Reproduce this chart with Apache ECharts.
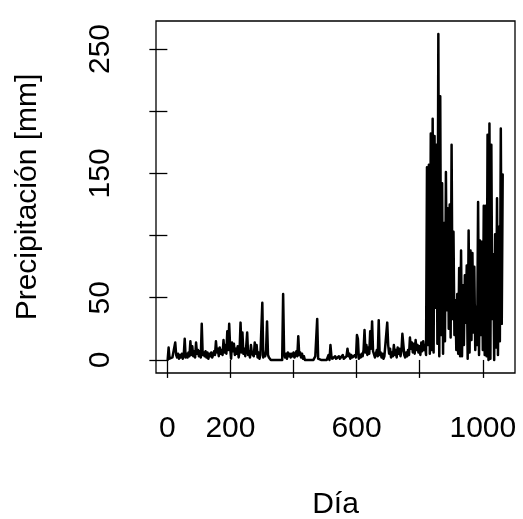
<!DOCTYPE html>
<html>
<head>
<meta charset="utf-8">
<script src="https://cdn.jsdelivr.net/npm/echarts@6/dist/echarts.min.js"></script>
<style>
  html, body { margin: 0; padding: 0; background: #fff; }
  #chart { width: 523px; height: 519px; }
</style>
</head>
<body>
<div id="chart"></div>
<script>
// precipitación diaria, un valor cada 3 días (día 1, 4, 7, ...)
const firstDay = 1
const stepDays = 3
const precip = [
  0, 10, 1, 0, 0, 2, 1, 3, 14, 4,
  2, 5, 1, 4, 2, 5, 1, 4, 17, 2,
  5, 2, 6, 3, 15, 4, 11, 3, 7, 2,
  14, 5, 8, 3, 7, 2, 29, 4, 6, 3,
  7, 2, 6, 1, 5, 3, 6, 2, 4, 7,
  4, 15, 6, 9, 3, 10, 5, 8, 4, 16,
  6, 12, 5, 23, 8, 29, 10, 1, 14, 7,
  13, 4, 9, 5, 11, 2, 8, 30, 6, 22,
  5, 9, 3, 11, 22, 4, 7, 2, 12, 5,
  6, 3, 14, 5, 12, 2, 6, 1, 4, 3,
  46, 2, 5, 3, 8, 31, 4, 2, 1, 0,
  0, 0, 0, 0, 0, 0, 0, 0, 0, 0,
  1, 0, 53, 6, 2, 5, 1, 6, 3, 5,
  2, 5, 3, 6, 2, 4, 7, 3, 19, 4,
  6, 2, 5, 1, 3, 0, 0, 0, 0, 0,
  0, 0, 0, 0, 0, 0, 3, 4, 33, 1,
  0, 0, 0, 0, 0, 0, 0, 0, 0, 1,
  4, 0, 12, 3, 1, 2, 0, 3, 1, 2,
  0, 3, 1, 2, 0, 4, 1, 2, 0, 3,
  9, 3, 5, 1, 4, 2, 3, 1, 4, 2,
  20, 17, 1, 4, 2, 5, 3, 8, 24, 6,
  12, 4, 10, 5, 23, 9, 31, 7, 6, 2,
  5, 8, 3, 32, 4, 6, 2, 5, 1, 3,
  2, 4, 30, 12, 5, 9, 2, 6, 3, 12,
  4, 8, 2, 10, 5, 9, 3, 7, 21, 20,
  4, 2, 6, 3, 8, 4, 18, 9, 14, 6,
  13, 5, 16, 8, 12, 6, 11, 4, 14, 7,
  15, 8, 12, 4, 155, 12, 157, 5, 182, 8,
  194, 6, 180, 42, 173, 13, 262, 3, 212, 20,
  142, 5, 110, 15, 151, 40, 122, 25, 125, 18,
  173, 33, 103, 20, 48, 8, 53, 5, 74, 3,
  88, 3, 60, 12, 68, 30, 76, 1, 104, 6,
  88, 16, 86, 22, 75, 8, 43, 12, 127, 4,
  96, 20, 95, 8, 124, 4, 124, 3, 181, 0,
  190, 1, 173, 33, 85, 0, 101, 10, 130, 4,
  107, 15, 186, 29, 149
]
const xTicks = [0, 200, 400, 600, 800, 1000]
const xLabels = [0, 200, 600, 1000]
const yTicks = [0, 50, 100, 150, 200, 250]
const yLabels = [0, 50, 150, 250]

const serie = precip.map((v, i) => [firstDay + i * stepDays, v])

const font = 'Liberation Sans, Arial, sans-serif'
const chart = echarts.init(document.getElementById('chart'))

chart.setOption({
  animation: false,
  grid: {
    left: 156, right: 8, top: 21, bottom: 146,
    outerBoundsMode: 'none',
    containLabel: false,
    show: true, borderColor: '#000', borderWidth: 1.3, backgroundColor: 'transparent'
  },
  xAxis: {
    type: 'value',
    min: -36,
    max: 1102,
    name: 'Día',
    nameLocation: 'middle',
    nameGap: 117,
    nameTextStyle: { color: '#000', fontSize: 30, fontFamily: font },
    axisLine: { show: false },
    axisTick: { show: true, length: 18, customValues: xTicks, lineStyle: { color: '#000', width: 1.3 } },
    axisLabel: {
      customValues: xLabels, margin: 41, color: '#000', fontSize: 30, fontFamily: font,
      formatter: (v) => String(v)
    },
    splitLine: { show: false }
  },
  yAxis: {
    type: 'value',
    min: -10.5,
    max: 272.5,
    name: 'Precipitación [mm]',
    nameLocation: 'middle',
    nameGap: 113,
    nameTextStyle: { color: '#000', fontSize: 30, fontFamily: font },
    axisLine: { show: false },
    axisTick: { show: true, length: 18, customValues: yTicks, lineStyle: { color: '#000', width: 1.3 } },
    axisLabel: {
      customValues: yLabels, rotate: 90, margin: 40, color: '#000', fontSize: 30, fontFamily: font,
      formatter: (v) => String(v)
    },
    splitLine: { show: false }
  },
  series: [{
    type: 'line',
    data: serie,
    showSymbol: false,
    symbol: 'none',
    lineStyle: { color: '#000', width: 2.5, join: 'round', cap: 'round' },
    silent: true
  }]
})
</script>
</body>
</html>
